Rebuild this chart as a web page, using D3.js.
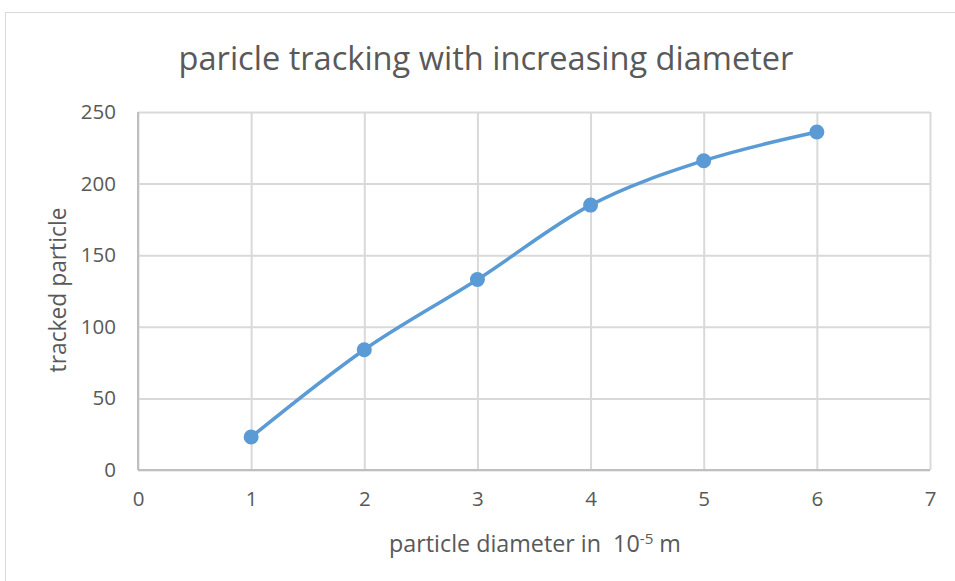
<!DOCTYPE html>
<html><head><meta charset="utf-8">
<script src="https://cdn.jsdelivr.net/npm/d3@7"></script>
<style>body{margin:0;background:#fff}svg{display:block}</style>
</head><body>
<script>
const xValues = [1, 2, 3, 4, 5, 6];
const yValues = [23, 84, 133, 185, 216, 236];
const xTicks = [0, 1, 2, 3, 4, 5, 6, 7];
const yTicks = [0, 50, 100, 150, 200, 250];
const titleText = "paricle tracking with increasing diameter";
const yLabel = "tracked particle";

const W = 955, H = 581;
const m = {left: 138, right: 25, top: 112, bottom: 111};
const font = "'Open Sans', 'Noto Sans', sans-serif";
const txt = "#595959";

const svg = d3.select("body").append("svg").attr("width", W).attr("height", H)
  .style("font-family", font);

svg.append("rect").attr("x", 5.5).attr("y", 12.5).attr("width", W + 10).attr("height", H + 10)
  .attr("fill", "#fff").attr("stroke", "#d9d9d9").attr("stroke-width", 1);

const x = d3.scaleLinear().domain([0, 7]).range([m.left, W - m.right]);
const y = d3.scaleLinear().domain([0, 250]).range([H - m.bottom, m.top]);

// gridlines
const gx = svg.append("g").attr("transform", `translate(0,${y(0)})`)
  .call(d3.axisBottom(x).tickValues(xTicks).tickSize(-(y(0) - y(250))).tickFormat(""));
gx.select(".domain").remove();
gx.selectAll("line").attr("stroke", "#d9d9d9").attr("stroke-width", 2);
const gy = svg.append("g").attr("transform", `translate(${x(0)},0)`)
  .call(d3.axisLeft(y).tickValues(yTicks).tickSize(-(x(7) - x(0))).tickFormat(""));
gy.select(".domain").remove();
gy.selectAll("line").attr("stroke", "#d9d9d9").attr("stroke-width", 2);

// axis lines
svg.append("line").attr("x1", x(0)).attr("x2", x(7)).attr("y1", y(0)).attr("y2", y(0))
  .attr("stroke", "#bfbfbf").attr("stroke-width", 2);
svg.append("line").attr("x1", x(0)).attr("x2", x(0)).attr("y1", y(0)).attr("y2", y(250))
  .attr("stroke", "#bfbfbf").attr("stroke-width", 2);

// tick labels
const xl = svg.append("g").attr("transform", `translate(0,${y(0)})`)
  .call(d3.axisBottom(x).tickValues(xTicks).tickSize(0).tickPadding(21).tickFormat(d3.format("d")));
xl.select(".domain").remove();
xl.attr("font-size", null).attr("font-family", null);
xl.selectAll("text").attr("fill", txt).attr("font-size", 20.5).attr("font-family", font);
const yl = svg.append("g").attr("transform", `translate(${x(0)},0)`)
  .call(d3.axisLeft(y).tickValues(yTicks).tickSize(0).tickPadding(22).tickFormat(d3.format("d")));
yl.select(".domain").remove();
yl.attr("font-size", null).attr("font-family", null);
yl.selectAll("text").attr("fill", txt).attr("font-size", 20.5).attr("font-family", font);

// line
const data = xValues.map((v, i) => [v, yValues[i]]);
svg.append("path").datum(data)
  .attr("d", d3.line().x(d => x(d[0])).y(d => y(d[1])).curve(d3.curveCatmullRom.alpha(0)))
  .attr("fill", "none").attr("stroke", "#5b9bd5").attr("stroke-width", 3.5).attr("stroke-linecap", "round");
svg.selectAll("circle.pt").data(data).join("circle").attr("class", "pt")
  .attr("cx", d => x(d[0])).attr("cy", d => y(d[1])).attr("r", 7.5).attr("fill", "#5b9bd5");

// title
const t = svg.append("text").attr("x", 486).attr("y", 70).attr("text-anchor", "middle")
  .attr("fill", txt).attr("font-size", 30).text(titleText);
const tw = t.node().getComputedTextLength();
if (tw > 0) t.attr("font-size", (30 * 615 / tw).toFixed(2));

// y title
const yt = svg.append("text").attr("transform", `translate(66,290) rotate(-90)`).attr("text-anchor", "middle")
  .attr("fill", txt).attr("font-size", 20).text(yLabel);
const yw = yt.node().getComputedTextLength();
if (yw > 0) yt.attr("font-size", (20 * 165 / yw).toFixed(2));

// x title
const xt = svg.append("text").attr("x", 535).attr("y", 552).attr("text-anchor", "middle")
  .attr("fill", txt).attr("font-size", 20).style("white-space", "pre");
xt.append("tspan").text("particle diameter in  10");
const sup = xt.append("tspan").attr("dy", -8).attr("font-size", 13).text("-5");
xt.append("tspan").attr("dy", 8).text(" m");
const xw = xt.node().getComputedTextLength();
if (xw > 0) { const s = 292 / xw; xt.attr("font-size", (20 * s).toFixed(2)); sup.attr("font-size", (13 * s).toFixed(2)); }
</script>
</body></html>
